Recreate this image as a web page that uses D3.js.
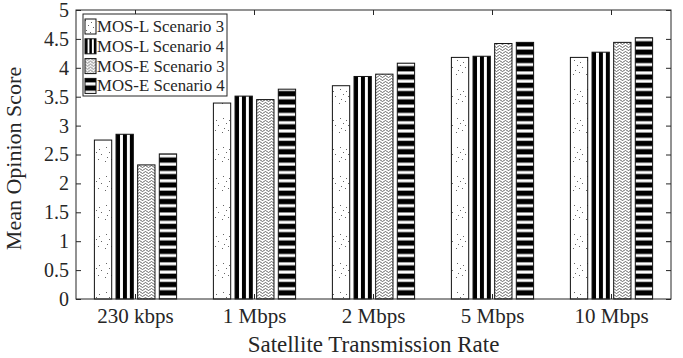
<!DOCTYPE html>
<html lang="en">
<head>
<meta charset="UTF-8">
<title>MOS vs rate</title>
<script src="https://cdn.jsdelivr.net/npm/d3@7"></script>
<style>
  body, html {margin: 0; padding: 0; background: #fff;}
  svg text {font-family: "Liberation Serif", "Times New Roman", serif; fill: #262626;}
</style>
</head>
<body>
<div id="chart"></div>
<script>
// data
const categories = ["230 kbps", "1 Mbps", "2 Mbps", "5 Mbps", "10 Mbps"];
const series = ["MOS-L Scenario 3", "MOS-L Scenario 4", "MOS-E Scenario 3", "MOS-E Scenario 4"];
const mosL3 = [2.75, 3.39, 3.69, 4.18, 4.18];
const mosL4 = [2.85, 3.51, 3.85, 4.20, 4.27];
const mosE3 = [2.32, 3.45, 3.89, 4.42, 4.44];
const mosE4 = [2.51, 3.63, 4.08, 4.44, 4.52];
const yTicks = [0, 0.5, 1, 1.5, 2, 2.5, 3, 3.5, 4, 4.5, 5];
const yTickLabels = ["0", "0.5", "1", "1.5", "2", "2.5", "3", "3.5", "4", "4.5", "5"];
const values = [mosL3, mosL4, mosE3, mosE4];

const width = 683, height = 358;
const margin = {top: 10, right: 12, bottom: 59, left: 76};
const innerW = width - margin.left - margin.right,
      innerH = height - margin.top - margin.bottom;

const svg = d3.select("#chart").append("svg")
  .attr("width", width).attr("height", height);

// patterns
const defs = svg.append("defs");
const pDots = defs.append("pattern").attr("id", "p0")
  .attr("patternUnits", "userSpaceOnUse").attr("width", 13).attr("height", 29);
pDots.append("rect").attr("width", 13).attr("height", 29).attr("fill", "#fff");
[[2, 2], [8, 4], [5, 7], [10, 9], [3, 12], [7, 14], [1, 16]].forEach(d => {
  pDots.append("rect").attr("x", d[0]).attr("y", d[1]).attr("width", 1).attr("height", 1).attr("fill", "#666");
});

const pVert = defs.append("pattern").attr("id", "p1")
  .attr("patternUnits", "objectBoundingBox").attr("patternContentUnits", "objectBoundingBox")
  .attr("width", 0.4).attr("height", 1);
pVert.append("rect").attr("width", 0.4).attr("height", 1).attr("fill", "#fff");
pVert.append("rect").attr("width", 0.23).attr("height", 1).attr("fill", "#000");

const pWave = defs.append("pattern").attr("id", "p2")
  .attr("patternUnits", "userSpaceOnUse").attr("width", 6).attr("height", 3);
pWave.append("rect").attr("width", 6).attr("height", 3).attr("fill", "#fff");
pWave.append("path").attr("d", "M0,1.5 L1.5,0.5 L4.5,2.5 L6,1.5")
  .attr("fill", "none").attr("stroke", "#444").attr("stroke-width", 0.8);

const pHoriz = defs.append("pattern").attr("id", "p3")
  .attr("patternUnits", "userSpaceOnUse").attr("width", 10).attr("height", 8.3);
pHoriz.append("rect").attr("width", 10).attr("height", 8.3).attr("fill", "#000");
pHoriz.append("rect").attr("y", 5).attr("width", 10).attr("height", 3).attr("fill", "#fff");

// scales
const x = d3.scaleBand().domain(categories).range([margin.left, margin.left + innerW]);
const groupW = x.bandwidth() * 4 / 5.5;
const xs = d3.scaleBand().domain(series).range([-groupW / 2, groupW / 2])
  .paddingInner(0.2).paddingOuter(0.1);
const y = d3.scaleLinear().domain([0, 5]).range([margin.top + innerH, margin.top]);

// bars
const g = svg.append("g");
series.forEach((s, si) => {
  g.selectAll(null).data(values[si]).enter().append("rect")
    .attr("x", (d, i) => x(categories[i]) + x.bandwidth() / 2 + xs(s))
    .attr("y", d => y(d))
    .attr("width", xs.bandwidth())
    .attr("height", d => y(0) - y(d))
    .attr("fill", `url(#p${si})`)
    .attr("stroke", "#111").attr("stroke-width", 1);
});

// axes
const axisStyle = size => sel => {
  sel.select(".domain").remove();
  sel.selectAll("line").attr("stroke", "#262626");
  sel.selectAll("text").attr("font-size", size).attr("font-family", null);
};
svg.append("g").attr("transform", `translate(${margin.left},0)`)
  .call(d3.axisLeft(y).tickValues(yTicks).tickFormat((d, i) => yTickLabels[i])
    .tickSize(-5).tickPadding(7))
  .call(axisStyle(20));
svg.append("g").attr("transform", `translate(${margin.left + innerW},0)`)
  .call(d3.axisRight(y).tickValues(yTicks).tickFormat("").tickSize(-5))
  .call(axisStyle(20));
svg.append("g").attr("transform", `translate(0,${margin.top + innerH})`)
  .call(d3.axisBottom(x).tickSize(-5).tickPadding(9))
  .call(axisStyle(21));
svg.append("g").attr("transform", `translate(0,${margin.top})`)
  .call(d3.axisTop(x).tickSize(-5).tickFormat(""))
  .call(axisStyle(21));

// box
svg.append("rect")
  .attr("x", margin.left).attr("y", margin.top)
  .attr("width", innerW).attr("height", innerH)
  .attr("fill", "none").attr("stroke", "#262626").attr("stroke-width", 1);

// titles
svg.append("text")
  .attr("x", margin.left + innerW / 2).attr("y", 352)
  .attr("text-anchor", "middle").attr("font-size", 23)
  .text("Satellite Transmission Rate");
svg.append("text")
  .attr("transform", `translate(21,${margin.top + innerH / 2 + 4}) rotate(-90)`)
  .attr("text-anchor", "middle").attr("font-size", 22)
  .text("Mean Opinion Score");

// legend
const leg = svg.append("g").attr("transform", "translate(83,14)");
leg.append("rect").attr("width", 144).attr("height", 82)
  .attr("fill", "#fff").attr("stroke", "#262626").attr("stroke-width", 1);
series.forEach((s, i) => {
  const row = leg.append("g").attr("transform", `translate(0,${4 + i * 19.8})`);
  row.append("rect").attr("x", 2).attr("y", 1).attr("width", 11).attr("height", 15)
    .attr("fill", `url(#p${i})`).attr("stroke", "#111");
  row.append("text").attr("x", 14).attr("y", 14).attr("font-size", 16.8).text(s);
});
</script>
</body>
</html>
